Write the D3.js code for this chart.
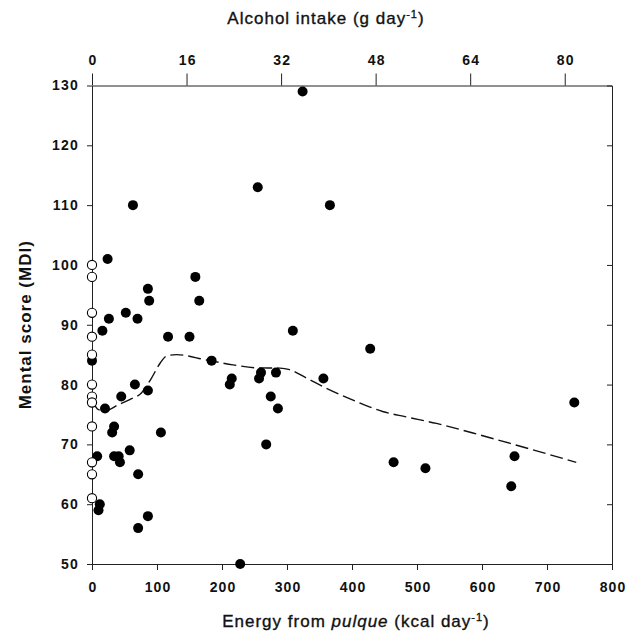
<!DOCTYPE html>
<html>
<head>
<meta charset="utf-8">
<script src="https://cdn.jsdelivr.net/npm/d3@7"></script>
<style>
  html, body { margin: 0; padding: 0; background: #fff; }
  svg { display: block; }
  text { font-family: "Liberation Sans", Arial, Helvetica, sans-serif; fill: #111; }
</style>
</head>
<body>
<svg id="chart" width="641" height="634"></svg>
<script>
// ---- Data ----
// Non-drinkers (open circles, pulque energy = 0)
const openMDI = [100, 98, 92, 88, 85, 80, 78, 77, 73, 67, 65, 61];

// Drinkers (filled circles): energy from pulque (kcal/day) and MDI
const filledEnergy = [0, 8, 10, 12, 16, 20, 24, 26, 31, 34, 34, 41, 43, 45, 52, 58, 63, 66, 70, 71, 71, 86, 86, 86, 88, 106, 117, 150, 159, 165, 184, 212, 215, 228, 255, 257, 260, 268, 275, 283, 286, 309, 324, 356, 366, 428, 464, 513, 645, 650, 742];
const filledMDI    = [84, 68, 59, 60, 89, 76, 101, 91, 72, 73, 68, 68, 67, 78, 92, 69, 110, 80, 91, 65, 56, 96, 79, 58, 94, 72, 88, 88, 98, 94, 84, 80, 81, 50, 113, 81, 82, 70, 78, 82, 76, 89, 129, 81, 110, 86, 67, 66, 63, 68, 77];

// Smoothed (dashed) curve
const curveEnergy = [0, 10, 20, 40, 58, 76, 90, 105, 115, 130, 176, 217, 253, 289, 304, 330, 360, 406, 447, 483, 530, 586, 652, 745];
const curveMDI    = [77.4, 75.8, 75.6, 76.6, 77.5, 78.6, 80.8, 83.6, 84.8, 85.0, 84.1, 83.3, 82.8, 82.75, 82.5, 81.1, 79.4, 77.2, 75.5, 74.6, 73.5, 71.9, 69.9, 67.0];

// Axis ticks
const energyTicks  = [0, 100, 200, 300, 400, 500, 600, 700, 800];
const alcoholTicks = [0, 16, 32, 48, 64, 80];
const mdiTicks     = [50, 60, 70, 80, 90, 100, 110, 120, 130];

// ---- Layout ----
const svg = d3.select("#chart");
const mLeft = 92, mRight = 612, mTop = 85.5, mBottom = 564;

const x = d3.scaleLinear().domain([0, 800]).range([mLeft, mRight]);
const xTop = d3.scaleLinear().domain([0, 88]).range([mLeft, mRight]);
const y = d3.scaleLinear().domain([50, 130]).range([mBottom, mTop]);

const tickFont = g => g.selectAll("text")
  .style("font-size", "14px").style("font-weight", "bold")
  .style("letter-spacing", "1.2px").attr("fill", "#111");

// Bottom axis
svg.append("g").attr("transform", `translate(0,${mBottom})`)
  .call(d3.axisBottom(x).tickValues(energyTicks).tickSize(6).tickSizeOuter(0).tickPadding(12).tickFormat(d3.format("d")))
  .call(g => g.select(".domain").attr("stroke", "#222"))
  .call(g => g.selectAll("line").attr("stroke", "#222"))
  .call(tickFont)
  .call(g => g.selectAll("text").attr("dx", "0.6px"));

// Top axis (alcohol)
svg.append("g").attr("transform", `translate(0,${mTop})`)
  .call(d3.axisTop(xTop).tickValues(alcoholTicks).tickSize(12).tickSizeOuter(0).tickPadding(9).tickFormat(d3.format("d")))
  .call(g => g.select(".domain").attr("stroke", "#222"))
  .call(g => g.selectAll("line").attr("stroke", "#222"))
  .call(tickFont)
  .call(g => g.selectAll("text").attr("dx", "0.6px"));

// Left axis
svg.append("g").attr("transform", `translate(${mLeft},0)`)
  .call(d3.axisLeft(y).tickValues(mdiTicks).tickSize(5).tickSizeOuter(0).tickPadding(8).tickFormat(d3.format("d")))
  .call(g => g.select(".domain").attr("stroke", "#222"))
  .call(g => g.selectAll("line").attr("stroke", "#222"))
  .call(tickFont);

// Right axis (inward ticks, no labels)
svg.append("g").attr("transform", `translate(${mRight},0)`)
  .call(d3.axisLeft(y).tickValues(mdiTicks).tickSize(5).tickSizeOuter(0).tickFormat(""))
  .call(g => g.select(".domain").attr("stroke", "#222"))
  .call(g => g.selectAll("line").attr("stroke", "#222"));

// Dashed smooth curve
const curvePts = curveEnergy.map((e, i) => [e, curveMDI[i]]);
svg.append("path")
  .datum(curvePts)
  .attr("fill", "none")
  .attr("stroke", "#111")
  .attr("stroke-width", 1.4)
  .attr("stroke-dasharray", "13,5")
  .attr("d", d3.line().x(d => x(d[0])).y(d => y(d[1])).curve(d3.curveMonotoneX));

// Filled circles
const filled = filledEnergy.map((e, i) => ({ e, m: filledMDI[i] }));
svg.append("g").selectAll("circle").data(filled).join("circle")
  .attr("cx", d => x(d.e)).attr("cy", d => y(d.m)).attr("r", 5)
  .attr("fill", "#000");

// Open circles (non-drinkers)
svg.append("g").selectAll("circle").data(openMDI).join("circle")
  .attr("cx", x(0)).attr("cy", d => y(d)).attr("r", 4.6)
  .attr("fill", "#fff").attr("stroke", "#000").attr("stroke-width", 1.1);

// Titles
const titleStyle = t => t.style("font-size", "17px").style("letter-spacing", "1px")
  .attr("stroke", "#111").attr("stroke-width", 0.35);

const topTitle = svg.append("text")
  .attr("x", 326).attr("y", 24).attr("text-anchor", "middle").call(titleStyle);
topTitle.append("tspan").text("Alcohol intake (g day");
topTitle.append("tspan").attr("dy", -6).style("font-size", "11px").text("-1");
topTitle.append("tspan").attr("dy", 6).text(")");

const botTitle = svg.append("text")
  .attr("x", 356).attr("y", 627).attr("text-anchor", "middle").call(titleStyle);
botTitle.append("tspan").text("Energy from ");
botTitle.append("tspan").style("font-style", "italic").text("pulque");
botTitle.append("tspan").text(" (kcal day");
botTitle.append("tspan").attr("dy", -6).style("font-size", "11px").text("-1");
botTitle.append("tspan").attr("dy", 6).text(")");

svg.append("text")
  .attr("transform", `translate(31,${(mTop + mBottom) / 2}) rotate(-90)`)
  .attr("text-anchor", "middle")
  .style("font-size", "17px").style("font-weight", "bold").style("letter-spacing", "1px")
  .text("Mental score (MDI)");
</script>
</body>
</html>
